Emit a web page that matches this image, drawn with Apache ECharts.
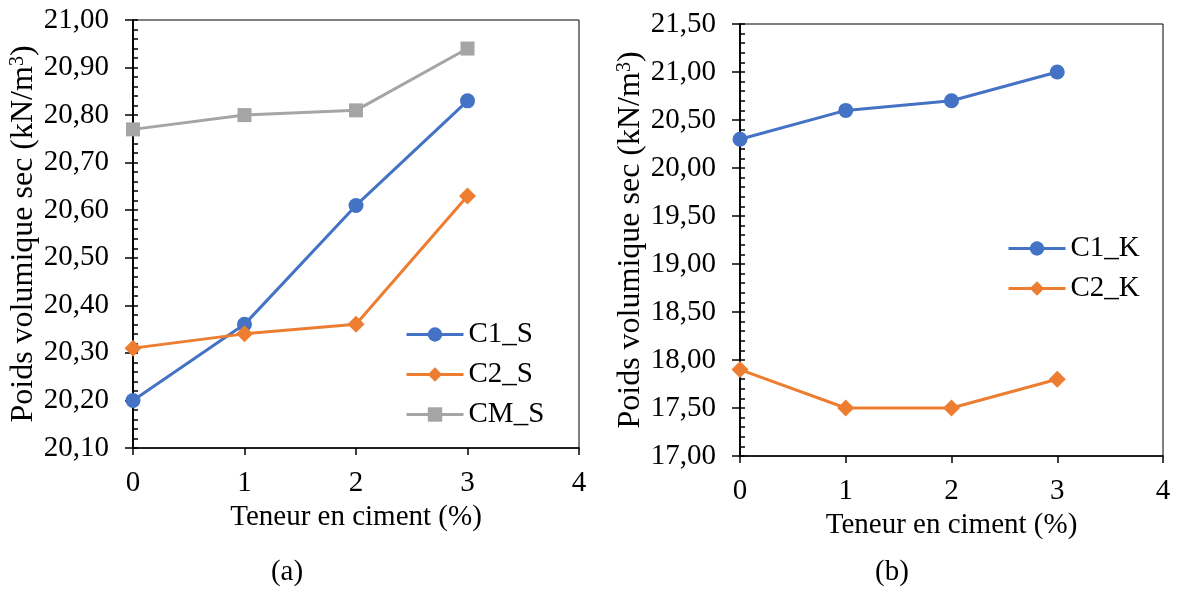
<!DOCTYPE html>
<html>
<head>
<meta charset="utf-8">
<script src="https://cdn.jsdelivr.net/npm/echarts@6/dist/echarts.min.js"></script>
<style>
html,body{margin:0;padding:0;background:#fff;}
#chart{width:1177px;height:593px;}
</style>
</head>
<body>
<div id="chart"></div>
<script>
// ---- Data ----
const xValues = [0, 1, 2, 3];
const seriesNamesA = ['C1_S', 'C2_S', 'CM_S'];
const C1_S = [20.20, 20.36, 20.61, 20.83];
const C2_S = [20.31, 20.34, 20.36, 20.63];
const CM_S = [20.77, 20.80, 20.81, 20.94];
const seriesNamesB = ['C1_K', 'C2_K'];
const C1_K = [20.30, 20.60, 20.70, 21.00];
const C2_K = [17.90, 17.50, 17.50, 17.80];
const xTitle = 'Teneur en ciment (%)';
const yTitle = 'Poids volumique sec (kN/m{sup|3})';
const panelLabels = ['(a)', '(b)'];

// ---- Styling ----
const FONT = 'Liberation Serif';
const FS = 29;
const COLORS = { blue: '#4472C4', orange: '#ED7D31', gray: '#A5A5A5' };

function pairs(vals) { return xValues.map((x, i) => [x, vals[i]]); }
function fmt(v) { return (Math.round(v * 100) / 100).toFixed(2).replace('.', ','); }

function xAxisCfg(gridIndex, gap) {
  return {
    type: 'value', gridIndex, min: 0, max: 4, interval: 1,
    name: xTitle, nameLocation: 'middle', nameGap: gap,
    nameTextStyle: { fontFamily: FONT, fontSize: FS, color: '#000' },
    axisLine: { show: true, onZero: false, lineStyle: { color: '#000', width: 1.5 } },
    axisTick: { show: true, length: 7, lineStyle: { color: '#000', width: 1.5 } },
    axisLabel: { fontFamily: FONT, fontSize: FS, color: '#000', margin: 21 },
    splitLine: { show: false }
  };
}
function yAxisCfg(gridIndex, min, max, interval, gap) {
  return {
    type: 'value', gridIndex, min, max, interval, position: 'left',
    name: yTitle, nameLocation: 'middle', nameGap: gap,
    nameTextStyle: {
      fontFamily: FONT, fontSize: 32, color: '#000',
      rich: { sup: { fontFamily: FONT, fontSize: 20, color: '#000', verticalAlign: 'top', lineHeight: 32 } }
    },
    axisLine: { show: true, onZero: false, lineStyle: { color: '#000', width: 1.5 } },
    axisTick: { show: true, inside: true, length: 5, lineStyle: { color: '#000', width: 1.5 } },
    minorTick: { show: true, splitNumber: 5, length: 5, lineStyle: { color: '#000', width: 1.5 } },
    axisLabel: { fontFamily: FONT, fontSize: FS, color: '#000', margin: 24, formatter: fmt },
    splitLine: { show: false }
  };
}
function yAxisOuter(gridIndex, min, max, interval) {
  return {
    type: 'value', gridIndex, min, max, interval, position: 'left',
    axisLine: { show: true, onZero: false, lineStyle: { color: '#000', width: 1.5 } },
    axisTick: { show: true, inside: false, length: 8, lineStyle: { color: '#000', width: 1.5 } },
    axisLabel: { show: false },
    splitLine: { show: false }
  };
}
function lineSeries(name, vals, color, symbol, size, xi, yi) {
  return {
    type: 'line', name, data: pairs(vals), xAxisIndex: xi, yAxisIndex: yi,
    symbol, symbolSize: size, showSymbol: true,
    lineStyle: { color, width: 3 },
    itemStyle: { color, borderWidth: 0 },
    emphasis: { disabled: true },
    animation: false
  };
}

const chart = echarts.init(document.getElementById('chart'), null, { renderer: 'canvas' });
chart.setOption({
  backgroundColor: '#fff',
  animation: false,
  grid: [
    { left: 133, top: 20, width: 446, height: 428, show: true, borderColor: '#000', borderWidth: 1, backgroundColor: 'transparent' },
    { left: 740, top: 24, width: 423, height: 432, show: true, borderColor: '#000', borderWidth: 1, backgroundColor: 'transparent' }
  ],
  xAxis: [xAxisCfg(0, 55), xAxisCfg(1, 46)],
  yAxis: [
    yAxisCfg(0, 20.1, 21.0, 0.1, 86),
    yAxisCfg(1, 17, 21.5, 0.5, 91),
    yAxisOuter(0, 20.1, 21.0, 0.1),
    yAxisOuter(1, 17, 21.5, 0.5)
  ],
  legend: [
    {
      data: seriesNamesA, orient: 'vertical', left: 400, top: 315,
      itemWidth: 57, itemHeight: 18, itemGap: 11,
      lineStyle: { width: 3 },
      textStyle: { fontFamily: FONT, fontSize: FS, color: '#000' }
    },
    {
      data: seriesNamesB, orient: 'vertical', left: 1002, top: 229,
      itemWidth: 57, itemHeight: 18, itemGap: 11,
      lineStyle: { width: 3 },
      textStyle: { fontFamily: FONT, fontSize: FS, color: '#000' }
    }
  ],
  graphic: [
    { type: 'text', x: 287, y: 572, style: { text: panelLabels[0], fontFamily: FONT, fontSize: FS, fill: '#000', align: 'center', verticalAlign: 'middle' } },
    { type: 'text', x: 892, y: 572, style: { text: panelLabels[1], fontFamily: FONT, fontSize: FS, fill: '#000', align: 'center', verticalAlign: 'middle' } }
  ],
  series: [
    lineSeries(seriesNamesA[0], C1_S, COLORS.blue, 'circle', 15, 0, 0),
    lineSeries(seriesNamesA[1], C2_S, COLORS.orange, 'diamond', 17, 0, 0),
    lineSeries(seriesNamesA[2], CM_S, COLORS.gray, 'rect', 14, 0, 0),
    lineSeries(seriesNamesB[0], C1_K, COLORS.blue, 'circle', 15, 1, 1),
    lineSeries(seriesNamesB[1], C2_K, COLORS.orange, 'diamond', 17, 1, 1)
  ]
});
</script>
</body>
</html>
